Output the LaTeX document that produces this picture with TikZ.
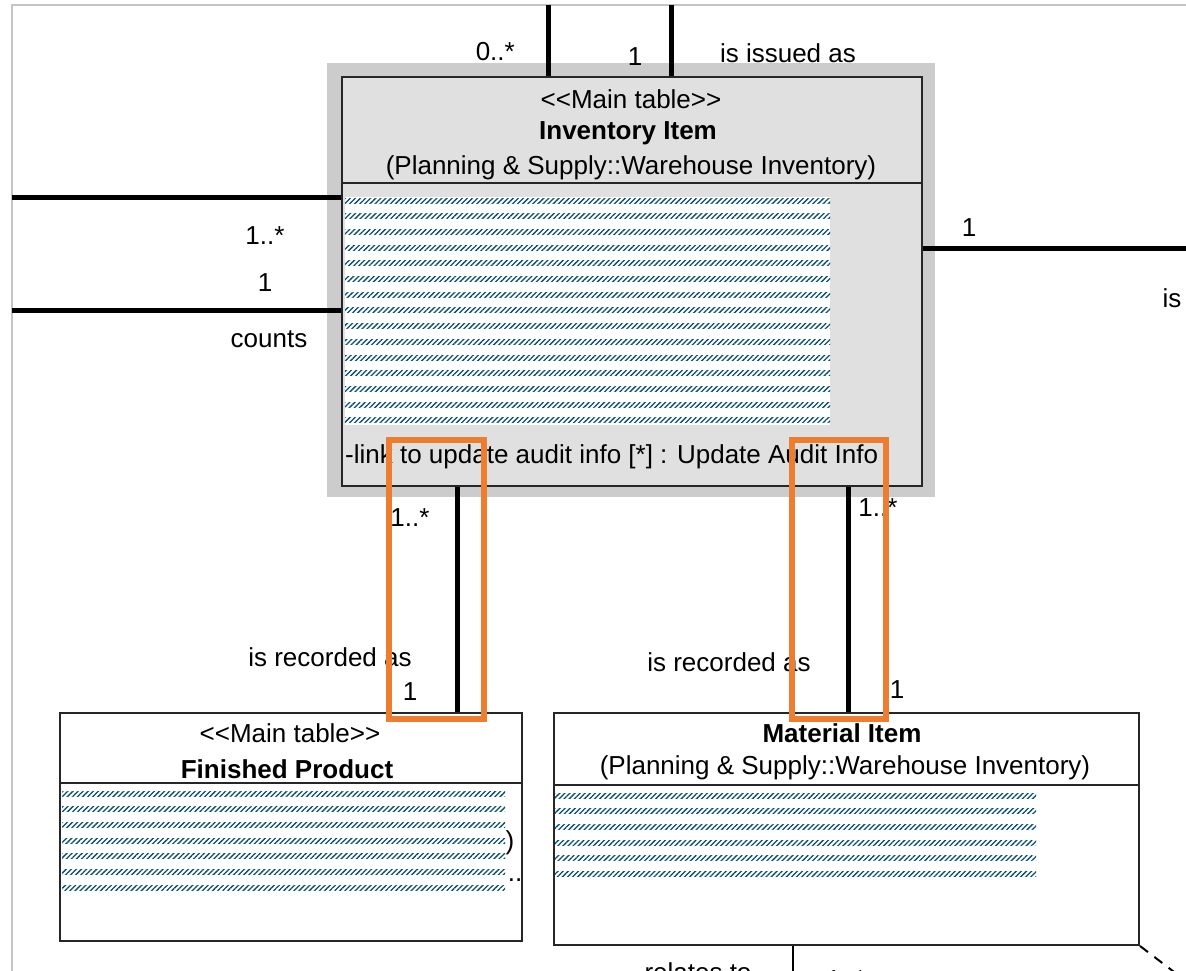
\documentclass[tikz,border=0pt]{standalone}
\usepackage{fontspec}
\setmainfont{Liberation Sans}
\usetikzlibrary{patterns.meta}

\definecolor{bandgray}{RGB}{204,204,204}
\definecolor{boxgray}{RGB}{224,224,224}
\definecolor{framegray}{RGB}{196,196,196}
\definecolor{hatchblue}{RGB}{8,78,114}
\definecolor{noteorange}{RGB}{237,125,49}

\tikzset{
  classbox/.style={draw=black!85, line width=2pt, anchor=north west, inner sep=0pt},
  divider/.style={black!85, line width=2pt},
  assoc/.style={line width=5pt},
  link/.style={line width=2pt},
  hatch/.style={pattern={Lines[angle=45,distance=3.6pt,line width=1.3pt]}, pattern color=hatchblue},
  highlight/.style={draw=noteorange, line width=6pt},
}

% rows of hatched strips: left x, top y, right x, number of rows
\newcommand{\hatchrows}[4]{%
  \foreach \r in {1,...,#4}
    \fill[hatch] (#1,{#2-(\r-1)*15.7}) rectangle (#3,{#2-(\r-1)*15.7-5});
}

\begin{document}
\begin{tikzpicture}[x=1pt,y=1pt]
\tikzstyle{every node}+=[inner sep=0pt, font=\fontsize{26}{30}\selectfont]
\useasboundingbox (0,0) rectangle (1186,-971);
\draw [framegray, line width=2pt] (12,-971) -- (12,-5) -- (1186,-5);

\node [fill=bandgray, minimum width=608pt, minimum height=434pt, anchor=north west] (invband) at (327,-63) {};
\node [classbox, fill=boxgray, minimum width=580pt, minimum height=409pt] (inv) at (341,-76) {};
\draw [divider] ([yshift=-107pt]inv.north west) -- ([yshift=-107pt]inv.north east);
\draw (631,-99) node (invst) {<{}<Main table>{}>};
\draw (628,-133) node (invname) {\bfseries Inventory Item};
\draw (631,-168) node (invpkg) {(Planning \& Supply::Warehouse Inventory)};
\fill [white] (345,-197) rectangle (830,-425);
\hatchrows{345}{-198}{830}{15}
\draw (345,-457) node [right] (invlink) {-link to update audit info [*] : Update Audit Info};

\node [classbox, fill=white, minimum width=462pt, minimum height=228pt] (fp) at (59,-712) {};
\draw [divider] ([yshift=-71pt]fp.north west) -- ([yshift=-71pt]fp.north east);
\draw (290,-733) node (fpst) {<{}<Main table>{}>};
\draw (287,-769) node (fpname) {\bfseries Finished Product};
\draw (510,-843) node (fpparen) {)};
\draw (515,-880) node (fpdots) {..};
\hatchrows{62}{-791}{505}{7}

\node [classbox, fill=white, minimum width=585pt, minimum height=232pt] (mi) at (553,-712) {};
\draw [divider] ([yshift=-73pt]mi.north west) -- ([yshift=-73pt]mi.north east);
\draw (842,-733) node (miname) {\bfseries Material Item};
\draw (845,-768) node (mipkg) {(Planning \& Supply::Warehouse Inventory)};
\hatchrows{555}{-793}{1036}{6}

\coordinate (issuedA) at (548,-5);
\coordinate (issuedB) at (671,-5);
\draw [assoc] (issuedA) -- (issuedA |- inv.north);
\draw [assoc] (issuedB) -- (issuedB |- inv.north);
\coordinate (countsA) at (12,-197);
\coordinate (countsB) at (12,-310);
\draw [assoc] (countsA) -- (countsA -| inv.west);
\draw [assoc] (countsB) -- (countsB -| inv.west);
\coordinate (isR) at (1186,-248);
\draw [assoc] (isR -| inv.east) -- (isR);
\coordinate (recFP) at (457,0);
\coordinate (recMI) at (848,0);
\draw [assoc] (recFP |- inv.south) -- (recFP |- fp.north);
\draw [assoc] (recMI |- inv.south) -- (recMI |- mi.north);
\coordinate (relA) at (793,-971);
\draw [link] (relA |- mi.south) -- (relA);
\coordinate (relB) at (1182,-978);
\draw [link, dash pattern=on 10pt off 8pt] (mi.south east) -- (relB);

\draw (515,-52) node [left] (mIssuedA) {0..*};
\draw (635,-57) node (mIssuedB) {1};
\draw (788,-53) node (lIssued) {is issued as};
\draw (265,-236) node (mCountsA) {1..*};
\draw (265,-283) node (mCountsB) {1};
\draw (269,-339) node (lCounts) {counts};
\draw (969,-228) node (mIsR) {1};
\draw (1172,-298) node (lIsR) {is};
\draw (410,-518) node (mRecFPtop) {1..*};
\draw (330,-657) node (lRecFP) {is recorded as};
\draw (410,-692) node (mRecFPbot) {1};
\draw (878,-508) node (mRecMItop) {1..*};
\draw (729,-662) node (lRecMI) {is recorded as};
\draw (897,-690) node (mRecMIbot) {1};
\draw (698,-972) node (lRel) {relates to};
\draw (846,-980) node (mRel) {1..*};

\draw [highlight] (389,-440) rectangle (484,-719);
\draw [highlight] (792,-440) rectangle (886,-719);
\end{tikzpicture}
\end{document}
